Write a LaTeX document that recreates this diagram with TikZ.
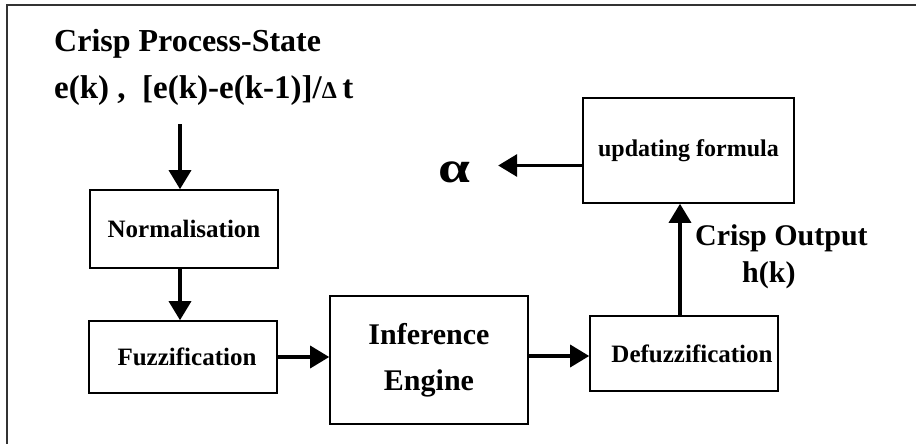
\documentclass[tikz,border=0pt]{standalone}
\usepackage{fontspec}
\setmainfont{Liberation Serif}
\usetikzlibrary{arrows.meta,calc}

\tikzset{
  blockbox/.style={draw, line width=1.6pt, inner sep=0pt, align=center,
    font=\bfseries\fontsize{25}{30}\selectfont},
  flow/.style={line width=3.4pt,
    -{Triangle[width=22pt,length=19pt]}},
  label/.style={inner sep=0pt, anchor=base west, font=\bfseries},
}

\begin{document}
\begin{tikzpicture}[x=1pt, y=-1pt]
  \useasboundingbox (0,0) rectangle (916,444);

  % frame (top and left edges)
  \draw[line width=1.5pt, black!80] (7,444) -- (7,5) -- (916,5);

  % blocks
  \node[blockbox, minimum width=188pt, minimum height=78pt] (norm) at (184,229) {Normalisation};
  \node[blockbox, minimum width=188pt, minimum height=72pt] (fuzz) at (183,357) {\hspace*{8pt}Fuzzification};
  \node[blockbox, minimum width=198pt, minimum height=128pt,
        font=\bfseries\fontsize{30}{46}\selectfont] (inf) at (429,360) {Inference\\Engine};
  \node[blockbox, minimum width=188pt, minimum height=75pt] (defuzz) at (684,353.5) {\hspace*{16pt}Defuzzification};
  \node[blockbox, minimum width=211pt, minimum height=105pt,
        font=\bfseries\fontsize{24}{28}\selectfont] (upd) at (688.5,150.5) {updating formula};

  % texts
  \node[label, font=\bfseries\fontsize{32}{36}\selectfont] (title) at (54,52) {Crisp Process-State};
  \node[label, font=\bfseries\fontsize{33}{38}\selectfont] (state) at (54,99)
    {e(k) ,\ \ [e(k)-e(k-1)]/{\fontsize{24}{24}\selectfont Δ}\,t};
  \node[label, font=\bfseries\fontsize{30}{34}\selectfont] (cout) at (695,245) {Crisp Output};
  \node[label, font=\bfseries\fontsize{30}{34}\selectfont] (hk) at (742,282) {h(k)};
  \node[inner sep=0pt, font=\bfseries\fontsize{44}{44}\selectfont] (alpha) at (454,172)
    {\scalebox{1.3}[1]{α}};

  % connectors
  \coordinate (in) at (180,124);
  \draw[flow] (in) -- (in |- norm.north);
  \draw[flow] ([xshift=-4pt]norm.south) -- ([xshift=-4pt]norm.south |- fuzz.north);
  \draw[flow] (fuzz.east) -- (fuzz.east -| inf.west);
  \draw[flow] ([yshift=4pt]inf.east) -- ([yshift=4pt]inf.east -| defuzz.west);
  \draw[flow] ([xshift=-4pt]defuzz.north) -- ([xshift=-4pt]defuzz.north |- upd.south);
  \draw[flow, shorten >=28pt] ([yshift=-15pt]upd.west) -- ([yshift=-15pt]upd.west -| alpha.east);
\end{tikzpicture}
\end{document}
